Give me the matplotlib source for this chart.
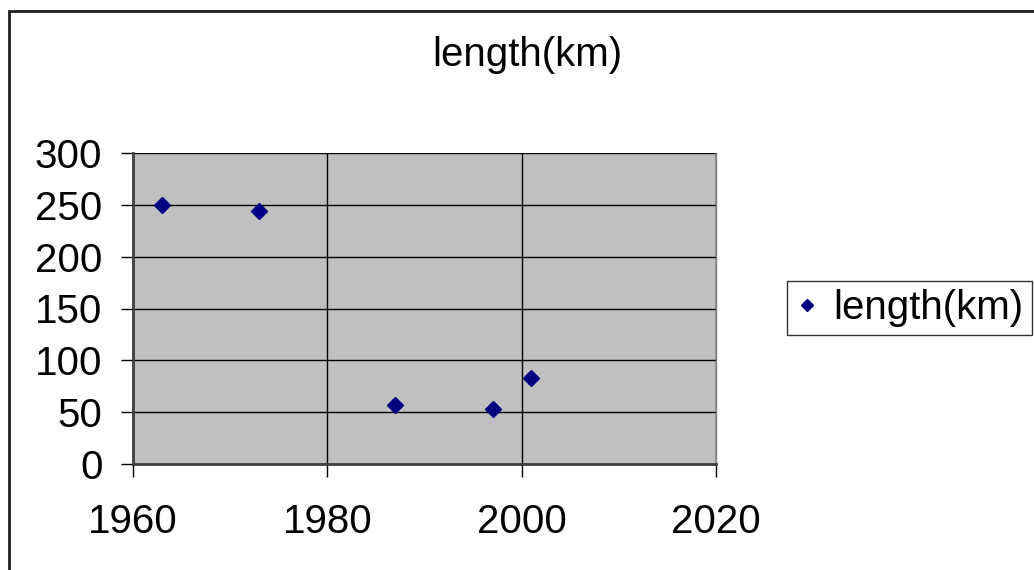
import matplotlib
matplotlib.use("Agg")
import matplotlib.pyplot as plt
from matplotlib.patches import Rectangle

plt.rcParams['font.family'] = ['Liberation Sans', 'DejaVu Sans']

years = [1963, 1973, 1987, 1997, 2001]
length_km = [250, 244, 57, 53, 83]
series_name = "length(km)"
title = "length(km)"
x_ticks = [1960, 1980, 2000, 2020]
y_ticks = [0, 50, 100, 150, 200, 250, 300]

W, H = 1034, 570
FS = 29
fig = plt.figure(figsize=(W / 100, H / 100), dpi=100)
fig.patch.set_facecolor('white')

# outer chart border
fig.patches.append(Rectangle((9 / W, -0.01), 1.05, 1 - 10.5 / H + 0.01,
                             transform=fig.transFigure, fill=False,
                             edgecolor='#202020', linewidth=2))

ax = fig.add_axes([133 / W, 1 - 464 / H, (716 - 133) / W, (464 - 153) / H])
ax.set_facecolor('#c0c0c0')

ax.plot(years, length_km, linestyle='none', marker='D', markersize=8,
        color='#000080', label=series_name)

ax.set_xlim(1960, 2020)
ax.set_ylim(0, 300)
ax.set_xticks(x_ticks)
ax.set_yticks(y_ticks)
ax.grid(True, color='black', linewidth=1)
ax.set_axisbelow(True)

ax.spines['top'].set_visible(False)
ax.spines['right'].set_color('#808080')
ax.spines['right'].set_linewidth(1)
ax.spines['left'].set_color('#404040')
ax.spines['left'].set_linewidth(2)
ax.spines['bottom'].set_color('#404040')
ax.spines['bottom'].set_linewidth(2)

ax.tick_params(axis='both', direction='out', length=9, width=1, color='black',
               labelsize=FS)
ax.tick_params(axis='y', pad=13)
ax.tick_params(axis='x', pad=19)

fig.text(527 / W, 1 - 55 / H, title, ha='center', va='center', fontsize=FS)

leg = fig.legend(loc='upper left', bbox_to_anchor=(787 / W, 1 - 281 / H),
                 borderaxespad=0, fontsize=FS, frameon=True, fancybox=False,
                 markerscale=0.75, handlelength=0.6, handletextpad=0.35,
                 borderpad=0.2)
leg.get_frame().set_edgecolor('black')
leg.get_frame().set_linewidth(1)

fig.savefig('out.png', dpi=100)
